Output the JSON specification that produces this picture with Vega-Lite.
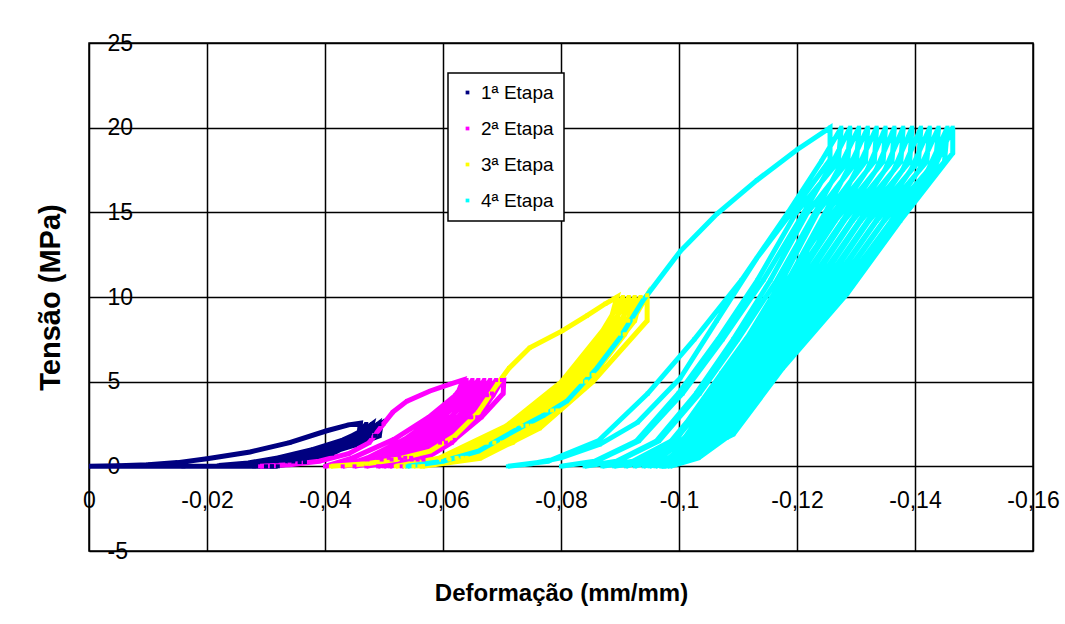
{
"$schema":"https://vega.github.io/schema/vega-lite/v6.json",
"width":944,"height":508,
"autosize":{"type":"none"},
"padding":{"left":89,"top":43,"right":32,"bottom":73},
"background":"#ffffff",
"data":{"values":[
{"etapa":"1ª Etapa","x":-0.032,"y":0},{"etapa":"1ª Etapa","x":-0.016,"y":0},{"etapa":"1ª Etapa","x":0,"y":0},
{"etapa":"1ª Etapa","x":-0.005,"y":0.04},{"etapa":"1ª Etapa","x":-0.01,"y":0.1},{"etapa":"1ª Etapa","x":-0.015,"y":0.22},{"etapa":"1ª Etapa","x":-0.02,"y":0.45},{"etapa":"1ª Etapa","x":-0.0273,"y":0.85},{"etapa":"1ª Etapa","x":-0.034,"y":1.4},{"etapa":"1ª Etapa","x":-0.0403,"y":2.1},{"etapa":"1ª Etapa","x":-0.044,"y":2.45},{"etapa":"1ª Etapa","x":-0.046,"y":2.55},
{"etapa":"1ª Etapa","x":-0.0458,"y":2.0},{"etapa":"1ª Etapa","x":-0.043,"y":1.55},{"etapa":"1ª Etapa","x":-0.038,"y":1.0},{"etapa":"1ª Etapa","x":-0.032,"y":0.5},{"etapa":"1ª Etapa","x":-0.027,"y":0.2},{"etapa":"1ª Etapa","x":-0.022,"y":0.05},
{"etapa":"1ª Etapa","x":-0.028,"y":0.22},{"etapa":"1ª Etapa","x":-0.034,"y":0.55},{"etapa":"1ª Etapa","x":-0.039,"y":1.05},{"etapa":"1ª Etapa","x":-0.0435,"y":1.6},{"etapa":"1ª Etapa","x":-0.0462,"y":2.1},{"etapa":"1ª Etapa","x":-0.047,"y":2.5},
{"etapa":"1ª Etapa","x":-0.0464,"y":1.8},{"etapa":"1ª Etapa","x":-0.0423,"y":1.25},{"etapa":"1ª Etapa","x":-0.0375,"y":0.75},{"etapa":"1ª Etapa","x":-0.0318,"y":0.3},{"etapa":"1ª Etapa","x":-0.028,"y":0},
{"etapa":"1ª Etapa","x":-0.034,"y":0.25},{"etapa":"1ª Etapa","x":-0.039,"y":0.75},{"etapa":"1ª Etapa","x":-0.0436,"y":1.5},{"etapa":"1ª Etapa","x":-0.0464,"y":2.1},{"etapa":"1ª Etapa","x":-0.048,"y":2.5},
{"etapa":"1ª Etapa","x":-0.0475,"y":1.8},{"etapa":"1ª Etapa","x":-0.0435,"y":1.25},{"etapa":"1ª Etapa","x":-0.039,"y":0.75},{"etapa":"1ª Etapa","x":-0.0336,"y":0.3},{"etapa":"1ª Etapa","x":-0.03,"y":0},
{"etapa":"1ª Etapa","x":-0.0357,"y":0.25},{"etapa":"1ª Etapa","x":-0.0405,"y":0.75},{"etapa":"1ª Etapa","x":-0.0448,"y":1.5},{"etapa":"1ª Etapa","x":-0.0475,"y":2.1},{"etapa":"1ª Etapa","x":-0.049,"y":2.5},
{"etapa":"1ª Etapa","x":-0.0485,"y":1.8},{"etapa":"1ª Etapa","x":-0.0445,"y":1.25},{"etapa":"1ª Etapa","x":-0.04,"y":0.75},{"etapa":"1ª Etapa","x":-0.0346,"y":0.3},{"etapa":"1ª Etapa","x":-0.031,"y":0},
{"etapa":"1ª Etapa","x":-0.0366,"y":0.25},{"etapa":"1ª Etapa","x":-0.0412,"y":0.75},{"etapa":"1ª Etapa","x":-0.0454,"y":1.5},{"etapa":"1ª Etapa","x":-0.048,"y":2.1},{"etapa":"1ª Etapa","x":-0.0495,"y":2.5},
{"etapa":"1ª Etapa","x":-0.0492,"y":1.8},{"etapa":"1ª Etapa","x":-0.045,"y":1.25},{"etapa":"1ª Etapa","x":-0.0403,"y":0.75},{"etapa":"1ª Etapa","x":-0.0346,"y":0.3},{"etapa":"1ª Etapa","x":-0.031,"y":0},

{"etapa":"2ª Etapa","x":-0.029,"y":0},{"etapa":"2ª Etapa","x":-0.034,"y":0.1},{"etapa":"2ª Etapa","x":-0.039,"y":0.3},{"etapa":"2ª Etapa","x":-0.044,"y":0.75},{"etapa":"2ª Etapa","x":-0.0475,"y":1.4},{"etapa":"2ª Etapa","x":-0.0499,"y":2.5},{"etapa":"2ª Etapa","x":-0.0515,"y":3.2},{"etapa":"2ª Etapa","x":-0.0539,"y":3.85},{"etapa":"2ª Etapa","x":-0.0578,"y":4.45},{"etapa":"2ª Etapa","x":-0.0612,"y":4.86},{"etapa":"2ª Etapa","x":-0.0634,"y":5.1},
{"etapa":"2ª Etapa","x":-0.0625,"y":4.3},{"etapa":"2ª Etapa","x":-0.0576,"y":2.9},{"etapa":"2ª Etapa","x":-0.0517,"y":1.6},{"etapa":"2ª Etapa","x":-0.0447,"y":0.5},{"etapa":"2ª Etapa","x":-0.04,"y":0},
{"etapa":"2ª Etapa","x":-0.0472,"y":0.4},{"etapa":"2ª Etapa","x":-0.0532,"y":1.4},{"etapa":"2ª Etapa","x":-0.0587,"y":2.9},{"etapa":"2ª Etapa","x":-0.0621,"y":4.2},{"etapa":"2ª Etapa","x":-0.064,"y":5.1},
{"etapa":"2ª Etapa","x":-0.0632,"y":4.3},{"etapa":"2ª Etapa","x":-0.0588,"y":2.9},{"etapa":"2ª Etapa","x":-0.0535,"y":1.6},{"etapa":"2ª Etapa","x":-0.0472,"y":0.5},{"etapa":"2ª Etapa","x":-0.043,"y":0},
{"etapa":"2ª Etapa","x":-0.0496,"y":0.4},{"etapa":"2ª Etapa","x":-0.0551,"y":1.4},{"etapa":"2ª Etapa","x":-0.0602,"y":2.9},{"etapa":"2ª Etapa","x":-0.0632,"y":4.2},{"etapa":"2ª Etapa","x":-0.065,"y":5.1},
{"etapa":"2ª Etapa","x":-0.0642,"y":4.3},{"etapa":"2ª Etapa","x":-0.06,"y":2.9},{"etapa":"2ª Etapa","x":-0.055,"y":1.6},{"etapa":"2ª Etapa","x":-0.049,"y":0.5},{"etapa":"2ª Etapa","x":-0.045,"y":0},
{"etapa":"2ª Etapa","x":-0.0513,"y":0.4},{"etapa":"2ª Etapa","x":-0.0566,"y":1.4},{"etapa":"2ª Etapa","x":-0.0614,"y":2.9},{"etapa":"2ª Etapa","x":-0.0643,"y":4.2},{"etapa":"2ª Etapa","x":-0.066,"y":5.1},
{"etapa":"2ª Etapa","x":-0.0652,"y":4.3},{"etapa":"2ª Etapa","x":-0.0613,"y":2.9},{"etapa":"2ª Etapa","x":-0.0565,"y":1.6},{"etapa":"2ª Etapa","x":-0.0508,"y":0.5},{"etapa":"2ª Etapa","x":-0.047,"y":0},
{"etapa":"2ª Etapa","x":-0.053,"y":0.4},{"etapa":"2ª Etapa","x":-0.058,"y":1.4},{"etapa":"2ª Etapa","x":-0.0626,"y":2.9},{"etapa":"2ª Etapa","x":-0.0654,"y":4.2},{"etapa":"2ª Etapa","x":-0.067,"y":5.1},
{"etapa":"2ª Etapa","x":-0.0663,"y":4.3},{"etapa":"2ª Etapa","x":-0.0625,"y":2.9},{"etapa":"2ª Etapa","x":-0.058,"y":1.6},{"etapa":"2ª Etapa","x":-0.0526,"y":0.5},{"etapa":"2ª Etapa","x":-0.049,"y":0},
{"etapa":"2ª Etapa","x":-0.0547,"y":0.4},{"etapa":"2ª Etapa","x":-0.0595,"y":1.4},{"etapa":"2ª Etapa","x":-0.0638,"y":2.9},{"etapa":"2ª Etapa","x":-0.0665,"y":4.2},{"etapa":"2ª Etapa","x":-0.068,"y":5.1},
{"etapa":"2ª Etapa","x":-0.0673,"y":4.3},{"etapa":"2ª Etapa","x":-0.0635,"y":2.9},{"etapa":"2ª Etapa","x":-0.059,"y":1.6},{"etapa":"2ª Etapa","x":-0.0536,"y":0.5},{"etapa":"2ª Etapa","x":-0.05,"y":0},
{"etapa":"2ª Etapa","x":-0.0557,"y":0.4},{"etapa":"2ª Etapa","x":-0.0605,"y":1.4},{"etapa":"2ª Etapa","x":-0.0648,"y":2.9},{"etapa":"2ª Etapa","x":-0.0675,"y":4.2},{"etapa":"2ª Etapa","x":-0.069,"y":5.1},
{"etapa":"2ª Etapa","x":-0.0683,"y":4.3},{"etapa":"2ª Etapa","x":-0.0645,"y":2.9},{"etapa":"2ª Etapa","x":-0.06,"y":1.6},{"etapa":"2ª Etapa","x":-0.0546,"y":0.5},{"etapa":"2ª Etapa","x":-0.051,"y":0},
{"etapa":"2ª Etapa","x":-0.0567,"y":0.4},{"etapa":"2ª Etapa","x":-0.0615,"y":1.4},{"etapa":"2ª Etapa","x":-0.0658,"y":2.9},{"etapa":"2ª Etapa","x":-0.0685,"y":4.2},{"etapa":"2ª Etapa","x":-0.07,"y":5.1},
{"etapa":"2ª Etapa","x":-0.0703,"y":5.1},{"etapa":"2ª Etapa","x":-0.0702,"y":4.3},{"etapa":"2ª Etapa","x":-0.0665,"y":2.9},{"etapa":"2ª Etapa","x":-0.062,"y":1.6},{"etapa":"2ª Etapa","x":-0.0565,"y":0.5},{"etapa":"2ª Etapa","x":-0.053,"y":0},

{"etapa":"3ª Etapa","x":-0.041,"y":0},{"etapa":"3ª Etapa","x":-0.047,"y":0.15},{"etapa":"3ª Etapa","x":-0.052,"y":0.4},{"etapa":"3ª Etapa","x":-0.0578,"y":0.9},{"etapa":"3ª Etapa","x":-0.062,"y":1.8},{"etapa":"3ª Etapa","x":-0.066,"y":3.2},{"etapa":"3ª Etapa","x":-0.0692,"y":4.85},{"etapa":"3ª Etapa","x":-0.0712,"y":5.8},{"etapa":"3ª Etapa","x":-0.0747,"y":7.0},{"etapa":"3ª Etapa","x":-0.0802,"y":8.0},{"etapa":"3ª Etapa","x":-0.0844,"y":8.9},{"etapa":"3ª Etapa","x":-0.0875,"y":9.6},{"etapa":"3ª Etapa","x":-0.0895,"y":10.0},
{"etapa":"3ª Etapa","x":-0.0884,"y":8.6},{"etapa":"3ª Etapa","x":-0.0801,"y":5.0},{"etapa":"3ª Etapa","x":-0.0708,"y":2.4},{"etapa":"3ª Etapa","x":-0.0595,"y":0.5},{"etapa":"3ª Etapa","x":-0.052,"y":0},
{"etapa":"3ª Etapa","x":-0.0597,"y":0.4},{"etapa":"3ª Etapa","x":-0.0674,"y":1.4},{"etapa":"3ª Etapa","x":-0.0751,"y":3.3},{"etapa":"3ª Etapa","x":-0.0813,"y":5.4},{"etapa":"3ª Etapa","x":-0.0867,"y":7.8},{"etapa":"3ª Etapa","x":-0.0905,"y":10},
{"etapa":"3ª Etapa","x":-0.0894,"y":8.6},{"etapa":"3ª Etapa","x":-0.0812,"y":5.0},{"etapa":"3ª Etapa","x":-0.072,"y":2.4},{"etapa":"3ª Etapa","x":-0.0609,"y":0.5},{"etapa":"3ª Etapa","x":-0.0535,"y":0},
{"etapa":"3ª Etapa","x":-0.0611,"y":0.4},{"etapa":"3ª Etapa","x":-0.0687,"y":1.4},{"etapa":"3ª Etapa","x":-0.0763,"y":3.3},{"etapa":"3ª Etapa","x":-0.0824,"y":5.4},{"etapa":"3ª Etapa","x":-0.0877,"y":7.8},{"etapa":"3ª Etapa","x":-0.0915,"y":10},
{"etapa":"3ª Etapa","x":-0.0904,"y":8.6},{"etapa":"3ª Etapa","x":-0.0824,"y":5.0},{"etapa":"3ª Etapa","x":-0.0733,"y":2.4},{"etapa":"3ª Etapa","x":-0.0623,"y":0.5},{"etapa":"3ª Etapa","x":-0.055,"y":0},
{"etapa":"3ª Etapa","x":-0.0625,"y":0.4},{"etapa":"3ª Etapa","x":-0.07,"y":1.4},{"etapa":"3ª Etapa","x":-0.0775,"y":3.3},{"etapa":"3ª Etapa","x":-0.0835,"y":5.4},{"etapa":"3ª Etapa","x":-0.0888,"y":7.8},{"etapa":"3ª Etapa","x":-0.0925,"y":10},
{"etapa":"3ª Etapa","x":-0.0914,"y":8.6},{"etapa":"3ª Etapa","x":-0.0834,"y":5.0},{"etapa":"3ª Etapa","x":-0.0743,"y":2.4},{"etapa":"3ª Etapa","x":-0.0633,"y":0.5},{"etapa":"3ª Etapa","x":-0.056,"y":0},
{"etapa":"3ª Etapa","x":-0.0635,"y":0.4},{"etapa":"3ª Etapa","x":-0.071,"y":1.4},{"etapa":"3ª Etapa","x":-0.0785,"y":3.3},{"etapa":"3ª Etapa","x":-0.0845,"y":5.4},{"etapa":"3ª Etapa","x":-0.0898,"y":7.8},{"etapa":"3ª Etapa","x":-0.0935,"y":10},
{"etapa":"3ª Etapa","x":-0.0925,"y":8.6},{"etapa":"3ª Etapa","x":-0.0843,"y":5.0},{"etapa":"3ª Etapa","x":-0.0751,"y":2.4},{"etapa":"3ª Etapa","x":-0.064,"y":0.5},{"etapa":"3ª Etapa","x":-0.0566,"y":0},
{"etapa":"3ª Etapa","x":-0.0642,"y":0.4},{"etapa":"3ª Etapa","x":-0.0718,"y":1.4},{"etapa":"3ª Etapa","x":-0.0794,"y":3.3},{"etapa":"3ª Etapa","x":-0.0855,"y":5.4},{"etapa":"3ª Etapa","x":-0.0908,"y":7.8},{"etapa":"3ª Etapa","x":-0.0946,"y":10.1},
{"etapa":"3ª Etapa","x":-0.0946,"y":8.6},{"etapa":"3ª Etapa","x":-0.0854,"y":5.0},{"etapa":"3ª Etapa","x":-0.0764,"y":2.25},{"etapa":"3ª Etapa","x":-0.0663,"y":0.47},{"etapa":"3ª Etapa","x":-0.0566,"y":0},

{"etapa":"4ª Etapa","x":-0.054,"y":0},{"etapa":"4ª Etapa","x":-0.06,"y":0.3},{"etapa":"4ª Etapa","x":-0.066,"y":0.9},{"etapa":"4ª Etapa","x":-0.0729,"y":2.25},{"etapa":"4ª Etapa","x":-0.077,"y":3.0},{"etapa":"4ª Etapa","x":-0.081,"y":3.85},{"etapa":"4ª Etapa","x":-0.0861,"y":5.8},{"etapa":"4ª Etapa","x":-0.09,"y":7.6},{"etapa":"4ª Etapa","x":-0.0939,"y":9.8},{"etapa":"4ª Etapa","x":-0.1002,"y":12.7},{"etapa":"4ª Etapa","x":-0.1064,"y":14.9},{"etapa":"4ª Etapa","x":-0.1132,"y":16.9},{"etapa":"4ª Etapa","x":-0.12,"y":18.7},{"etapa":"4ª Etapa","x":-0.1256,"y":20},
{"etapa":"4ª Etapa","x":-0.1256,"y":18.1},{"etapa":"4ª Etapa","x":-0.1193,"y":15.1},{"etapa":"4ª Etapa","x":-0.1132,"y":12.3},{"etapa":"4ª Etapa","x":-0.1064,"y":8.6},{"etapa":"4ª Etapa","x":-0.1002,"y":5.2},{"etapa":"4ª Etapa","x":-0.093,"y":2.6},{"etapa":"4ª Etapa","x":-0.0866,"y":1.3},{"etapa":"4ª Etapa","x":-0.08,"y":0.5},{"etapa":"4ª Etapa","x":-0.075,"y":0.15},{"etapa":"4ª Etapa","x":-0.071,"y":0},
{"etapa":"4ª Etapa","x":-0.0778,"y":0.3},{"etapa":"4ª Etapa","x":-0.0863,"y":1.5},{"etapa":"4ª Etapa","x":-0.0947,"y":4.3},{"etapa":"4ª Etapa","x":-0.1026,"y":7.5},{"etapa":"4ª Etapa","x":-0.1106,"y":11},{"etapa":"4ª Etapa","x":-0.1185,"y":15},{"etapa":"4ª Etapa","x":-0.1241,"y":18},{"etapa":"4ª Etapa","x":-0.1275,"y":20},
{"etapa":"4ª Etapa","x":-0.127,"y":18},{"etapa":"4ª Etapa","x":-0.1199,"y":15},{"etapa":"4ª Etapa","x":-0.1133,"y":11},{"etapa":"4ª Etapa","x":-0.1066,"y":7.5},{"etapa":"4ª Etapa","x":-0.0999,"y":4.3},{"etapa":"4ª Etapa","x":-0.0928,"y":1.5},{"etapa":"4ª Etapa","x":-0.0857,"y":0.3},{"etapa":"4ª Etapa","x":-0.08,"y":0},
{"etapa":"4ª Etapa","x":-0.0859,"y":0.3},{"etapa":"4ª Etapa","x":-0.0932,"y":1.5},{"etapa":"4ª Etapa","x":-0.1006,"y":4.3},{"etapa":"4ª Etapa","x":-0.1074,"y":7.5},{"etapa":"4ª Etapa","x":-0.1143,"y":11},{"etapa":"4ª Etapa","x":-0.1212,"y":15},{"etapa":"4ª Etapa","x":-0.1261,"y":18},{"etapa":"4ª Etapa","x":-0.129,"y":20},
{"etapa":"4ª Etapa","x":-0.1286,"y":18},{"etapa":"4ª Etapa","x":-0.1218,"y":15},{"etapa":"4ª Etapa","x":-0.1155,"y":11},{"etapa":"4ª Etapa","x":-0.1092,"y":7.5},{"etapa":"4ª Etapa","x":-0.1029,"y":4.3},{"etapa":"4ª Etapa","x":-0.0962,"y":1.5},{"etapa":"4ª Etapa","x":-0.0894,"y":0.3},{"etapa":"4ª Etapa","x":-0.084,"y":0},
{"etapa":"4ª Etapa","x":-0.0896,"y":0.3},{"etapa":"4ª Etapa","x":-0.0966,"y":1.5},{"etapa":"4ª Etapa","x":-0.1035,"y":4.3},{"etapa":"4ª Etapa","x":-0.11,"y":7.5},{"etapa":"4ª Etapa","x":-0.1166,"y":11},{"etapa":"4ª Etapa","x":-0.1231,"y":15},{"etapa":"4ª Etapa","x":-0.1277,"y":18},{"etapa":"4ª Etapa","x":-0.1305,"y":20},
{"etapa":"4ª Etapa","x":-0.1301,"y":18},{"etapa":"4ª Etapa","x":-0.1235,"y":15},{"etapa":"4ª Etapa","x":-0.1175,"y":11},{"etapa":"4ª Etapa","x":-0.1114,"y":7.5},{"etapa":"4ª Etapa","x":-0.1053,"y":4.3},{"etapa":"4ª Etapa","x":-0.0987,"y":1.5},{"etapa":"4ª Etapa","x":-0.0922,"y":0.3},{"etapa":"4ª Etapa","x":-0.087,"y":0},
{"etapa":"4ª Etapa","x":-0.0924,"y":0.3},{"etapa":"4ª Etapa","x":-0.0992,"y":1.5},{"etapa":"4ª Etapa","x":-0.1059,"y":4.3},{"etapa":"4ª Etapa","x":-0.1122,"y":7.5},{"etapa":"4ª Etapa","x":-0.1185,"y":11},{"etapa":"4ª Etapa","x":-0.1248,"y":15},{"etapa":"4ª Etapa","x":-0.1293,"y":18},{"etapa":"4ª Etapa","x":-0.132,"y":20},
{"etapa":"4ª Etapa","x":-0.1316,"y":18},{"etapa":"4ª Etapa","x":-0.1251,"y":15},{"etapa":"4ª Etapa","x":-0.1191,"y":11},{"etapa":"4ª Etapa","x":-0.1131,"y":7.5},{"etapa":"4ª Etapa","x":-0.107,"y":4.3},{"etapa":"4ª Etapa","x":-0.1006,"y":1.5},{"etapa":"4ª Etapa","x":-0.0942,"y":0.3},{"etapa":"4ª Etapa","x":-0.089,"y":0},
{"etapa":"4ª Etapa","x":-0.0943,"y":0.3},{"etapa":"4ª Etapa","x":-0.101,"y":1.5},{"etapa":"4ª Etapa","x":-0.1077,"y":4.3},{"etapa":"4ª Etapa","x":-0.1139,"y":7.5},{"etapa":"4ª Etapa","x":-0.1202,"y":11},{"etapa":"4ª Etapa","x":-0.1264,"y":15},{"etapa":"4ª Etapa","x":-0.1308,"y":18},{"etapa":"4ª Etapa","x":-0.1335,"y":20},
{"etapa":"4ª Etapa","x":-0.1331,"y":18},{"etapa":"4ª Etapa","x":-0.125,"y":14.5},{"etapa":"4ª Etapa","x":-0.1165,"y":10},{"etapa":"4ª Etapa","x":-0.1072,"y":5.5},{"etapa":"4ª Etapa","x":-0.0995,"y":1.7},{"etapa":"4ª Etapa","x":-0.0953,"y":0.5},{"etapa":"4ª Etapa","x":-0.091,"y":0},
{"etapa":"4ª Etapa","x":-0.0954,"y":0.5},{"etapa":"4ª Etapa","x":-0.0998,"y":1.7},{"etapa":"4ª Etapa","x":-0.1077,"y":5.5},{"etapa":"4ª Etapa","x":-0.1174,"y":10},{"etapa":"4ª Etapa","x":-0.1262,"y":14.5},{"etapa":"4ª Etapa","x":-0.1319,"y":17.5},{"etapa":"4ª Etapa","x":-0.135,"y":20},
{"etapa":"4ª Etapa","x":-0.1346,"y":18},{"etapa":"4ª Etapa","x":-0.1265,"y":14.5},{"etapa":"4ª Etapa","x":-0.118,"y":10},{"etapa":"4ª Etapa","x":-0.1087,"y":5.5},{"etapa":"4ª Etapa","x":-0.101,"y":1.7},{"etapa":"4ª Etapa","x":-0.0968,"y":0.5},{"etapa":"4ª Etapa","x":-0.0925,"y":0},
{"etapa":"4ª Etapa","x":-0.0969,"y":0.5},{"etapa":"4ª Etapa","x":-0.1013,"y":1.7},{"etapa":"4ª Etapa","x":-0.1092,"y":5.5},{"etapa":"4ª Etapa","x":-0.1189,"y":10},{"etapa":"4ª Etapa","x":-0.1277,"y":14.5},{"etapa":"4ª Etapa","x":-0.1334,"y":17.5},{"etapa":"4ª Etapa","x":-0.1365,"y":20},
{"etapa":"4ª Etapa","x":-0.1361,"y":18},{"etapa":"4ª Etapa","x":-0.128,"y":14.5},{"etapa":"4ª Etapa","x":-0.1195,"y":10},{"etapa":"4ª Etapa","x":-0.1102,"y":5.5},{"etapa":"4ª Etapa","x":-0.1025,"y":1.7},{"etapa":"4ª Etapa","x":-0.0983,"y":0.5},{"etapa":"4ª Etapa","x":-0.094,"y":0},
{"etapa":"4ª Etapa","x":-0.0984,"y":0.5},{"etapa":"4ª Etapa","x":-0.1028,"y":1.7},{"etapa":"4ª Etapa","x":-0.1107,"y":5.5},{"etapa":"4ª Etapa","x":-0.1204,"y":10},{"etapa":"4ª Etapa","x":-0.1292,"y":14.5},{"etapa":"4ª Etapa","x":-0.1349,"y":17.5},{"etapa":"4ª Etapa","x":-0.138,"y":20},
{"etapa":"4ª Etapa","x":-0.1376,"y":18},{"etapa":"4ª Etapa","x":-0.1294,"y":14.5},{"etapa":"4ª Etapa","x":-0.1208,"y":10},{"etapa":"4ª Etapa","x":-0.1113,"y":5.5},{"etapa":"4ª Etapa","x":-0.1036,"y":1.7},{"etapa":"4ª Etapa","x":-0.0993,"y":0.5},{"etapa":"4ª Etapa","x":-0.095,"y":0},
{"etapa":"4ª Etapa","x":-0.0995,"y":0.5},{"etapa":"4ª Etapa","x":-0.1039,"y":1.7},{"etapa":"4ª Etapa","x":-0.1119,"y":5.5},{"etapa":"4ª Etapa","x":-0.1217,"y":10},{"etapa":"4ª Etapa","x":-0.1306,"y":14.5},{"etapa":"4ª Etapa","x":-0.1364,"y":17.5},{"etapa":"4ª Etapa","x":-0.1395,"y":20},
{"etapa":"4ª Etapa","x":-0.1391,"y":18},{"etapa":"4ª Etapa","x":-0.1308,"y":14.5},{"etapa":"4ª Etapa","x":-0.1221,"y":10},{"etapa":"4ª Etapa","x":-0.1125,"y":5.5},{"etapa":"4ª Etapa","x":-0.1047,"y":1.7},{"etapa":"4ª Etapa","x":-0.1004,"y":0.5},{"etapa":"4ª Etapa","x":-0.096,"y":0},
{"etapa":"4ª Etapa","x":-0.1005,"y":0.5},{"etapa":"4ª Etapa","x":-0.105,"y":1.7},{"etapa":"4ª Etapa","x":-0.1131,"y":5.5},{"etapa":"4ª Etapa","x":-0.123,"y":10},{"etapa":"4ª Etapa","x":-0.132,"y":14.5},{"etapa":"4ª Etapa","x":-0.1379,"y":17.5},{"etapa":"4ª Etapa","x":-0.141,"y":20},
{"etapa":"4ª Etapa","x":-0.1406,"y":18},{"etapa":"4ª Etapa","x":-0.1322,"y":14.5},{"etapa":"4ª Etapa","x":-0.1234,"y":10},{"etapa":"4ª Etapa","x":-0.1137,"y":5.5},{"etapa":"4ª Etapa","x":-0.1058,"y":1.7},{"etapa":"4ª Etapa","x":-0.1014,"y":0.5},{"etapa":"4ª Etapa","x":-0.097,"y":0},
{"etapa":"4ª Etapa","x":-0.1016,"y":0.5},{"etapa":"4ª Etapa","x":-0.1061,"y":1.7},{"etapa":"4ª Etapa","x":-0.1143,"y":5.5},{"etapa":"4ª Etapa","x":-0.1243,"y":10},{"etapa":"4ª Etapa","x":-0.1334,"y":14.5},{"etapa":"4ª Etapa","x":-0.1393,"y":17.5},{"etapa":"4ª Etapa","x":-0.1425,"y":20},
{"etapa":"4ª Etapa","x":-0.142,"y":18},{"etapa":"4ª Etapa","x":-0.1335,"y":14.5},{"etapa":"4ª Etapa","x":-0.1245,"y":10},{"etapa":"4ª Etapa","x":-0.1146,"y":5.5},{"etapa":"4ª Etapa","x":-0.1065,"y":1.7},{"etapa":"4ª Etapa","x":-0.102,"y":0.5},{"etapa":"4ª Etapa","x":-0.0975,"y":0},
{"etapa":"4ª Etapa","x":-0.1022,"y":0.5},{"etapa":"4ª Etapa","x":-0.1068,"y":1.7},{"etapa":"4ª Etapa","x":-0.1152,"y":5.5},{"etapa":"4ª Etapa","x":-0.1254,"y":10},{"etapa":"4ª Etapa","x":-0.1347,"y":14.5},{"etapa":"4ª Etapa","x":-0.1407,"y":17.5},{"etapa":"4ª Etapa","x":-0.144,"y":20},
{"etapa":"4ª Etapa","x":-0.1435,"y":18},{"etapa":"4ª Etapa","x":-0.1348,"y":14.5},{"etapa":"4ª Etapa","x":-0.1256,"y":10},{"etapa":"4ª Etapa","x":-0.1155,"y":5.5},{"etapa":"4ª Etapa","x":-0.1072,"y":1.7},{"etapa":"4ª Etapa","x":-0.1026,"y":0.5},{"etapa":"4ª Etapa","x":-0.098,"y":0},
{"etapa":"4ª Etapa","x":-0.1028,"y":0.5},{"etapa":"4ª Etapa","x":-0.1075,"y":1.7},{"etapa":"4ª Etapa","x":-0.116,"y":5.5},{"etapa":"4ª Etapa","x":-0.1265,"y":10},{"etapa":"4ª Etapa","x":-0.136,"y":14.5},{"etapa":"4ª Etapa","x":-0.1422,"y":17.5},{"etapa":"4ª Etapa","x":-0.1455,"y":20},
{"etapa":"4ª Etapa","x":-0.145,"y":18},{"etapa":"4ª Etapa","x":-0.1361,"y":14.5},{"etapa":"4ª Etapa","x":-0.1267,"y":10},{"etapa":"4ª Etapa","x":-0.1164,"y":5.5},{"etapa":"4ª Etapa","x":-0.1079,"y":1.7},{"etapa":"4ª Etapa","x":-0.1032,"y":0.5},{"etapa":"4ª Etapa","x":-0.0985,"y":0},
{"etapa":"4ª Etapa","x":-0.1033,"y":0.5},{"etapa":"4ª Etapa","x":-0.1081,"y":1.7},{"etapa":"4ª Etapa","x":-0.1167,"y":5.5},{"etapa":"4ª Etapa","x":-0.1272,"y":10},{"etapa":"4ª Etapa","x":-0.1368,"y":14.5},{"etapa":"4ª Etapa","x":-0.1431,"y":17.5},{"etapa":"4ª Etapa","x":-0.1464,"y":20},
{"etapa":"4ª Etapa","x":-0.1464,"y":18.5},{"etapa":"4ª Etapa","x":-0.1375,"y":14.5},{"etapa":"4ª Etapa","x":-0.1285,"y":10.2},{"etapa":"4ª Etapa","x":-0.1176,"y":5.8},{"etapa":"4ª Etapa","x":-0.1092,"y":1.9},{"etapa":"4ª Etapa","x":-0.099,"y":0.1},{"etapa":"4ª Etapa","x":-0.097,"y":0}
]},
"encoding":{
"x":{"field":"x","type":"quantitative",
 "scale":{"domain":[-0.16,0],"reverse":true,"nice":false,"zero":false},
 "axis":{"values":[0,-0.02,-0.04,-0.06,-0.08,-0.1,-0.12,-0.14,-0.16],
  "labelExpr":"replace(toString(datum.value), '.', ',')",
  "domain":false,"ticks":false,"tickSize":0,"grid":true,"gridColor":"#000000","gridWidth":1.5,"gridOpacity":1,
  "labelPadding":-51,"labelBaseline":"middle","labelAlign":"center","labelFlush":false,"labelOverlap":false,
  "labelFontSize":23,"labelFont":"Liberation Sans","labelColor":"#000000",
  "title":"Deformação (mm/mm)","titleFont":"Liberation Sans","titleFontSize":24,"titleFontWeight":"bold","titleColor":"#000000",
  "titleX":472,"titleY":49,"titleAlign":"center","titleBaseline":"alphabetic"}},
"y":{"field":"y","type":"quantitative",
 "scale":{"domain":[-5,25],"nice":false,"zero":false},
 "axis":{"values":[-5,0,5,10,15,20,25],
  "labelExpr":"toString(datum.value)",
  "domain":false,"ticks":false,"tickSize":0,"grid":true,"gridColor":"#000000","gridWidth":1.5,"gridOpacity":1,
  "labelPadding":-18,"labelAlign":"left","labelBaseline":"middle","labelFlush":false,"labelOverlap":false,
  "labelFontSize":23,"labelFont":"Liberation Sans","labelColor":"#000000",
  "title":"Tensão (MPa)","titleFont":"Liberation Sans","titleFontSize":29,"titleFontWeight":"bold","titleColor":"#000000",
  "titleX":-39,"titleY":254,"titleAngle":-90,"titleAlign":"center","titleBaseline":"middle"}},
"color":{"field":"etapa","type":"nominal",
   "scale":{"domain":["1ª Etapa","2ª Etapa","3ª Etapa","4ª Etapa"],"range":["#000080","#FF00FF","#FFFF00","#00FFFF"]},
   "legend":{"orient":"none","legendX":359,"legendY":30,"title":null,
    "symbolType":"square","symbolSize":14,"symbolStrokeWidth":0,"symbolOpacity":1,
    "labelFont":"Liberation Sans","labelFontSize":19,"labelColor":"#000000","labelOffset":4,
    "rowPadding":16,"padding":10,"strokeColor":"#000000","fillColor":"#ffffff"}}
},
"layer":[
{"mark":{"type":"line","strokeWidth":5,"clip":true},
 "encoding":{"order":{"value":null}}},
{"mark":{"type":"point","shape":"square","filled":true,"size":16,"opacity":1,"clip":true}}
],
"config":{"view":{"stroke":"#000000","strokeWidth":1.5},"legend":{"strokeWidth":1.5}}
}
